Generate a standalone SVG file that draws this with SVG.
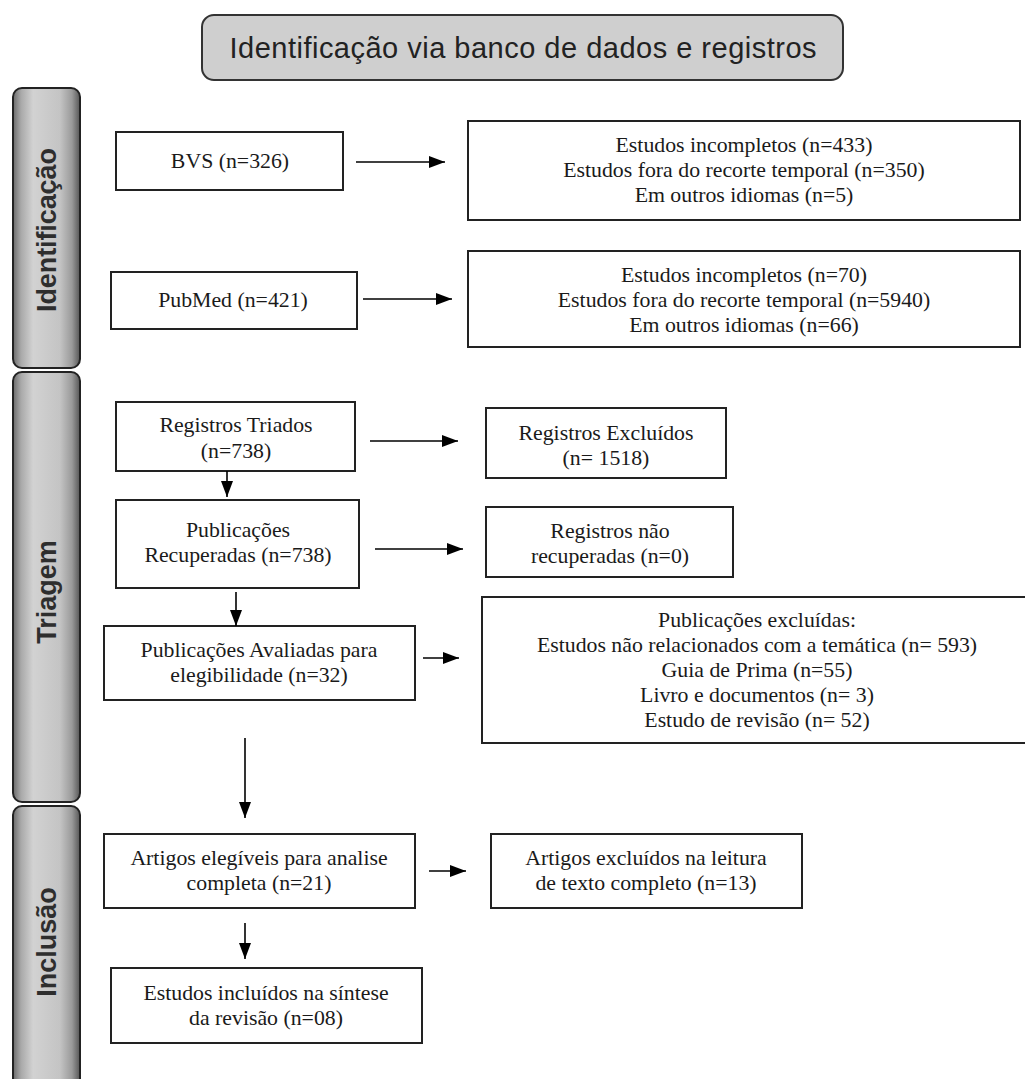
<svg xmlns="http://www.w3.org/2000/svg" width="1025" height="1079" viewBox="0 0 1025 1079">
<style>
.box{fill:#fff;stroke:#222;stroke-width:2}
.t{font-family:"Liberation Serif","Times New Roman",serif;font-size:21.8px;fill:#1a1a1a;text-anchor:middle}
.side{font-family:"Liberation Sans",Arial,sans-serif;font-size:27px;font-weight:bold;fill:#2e2e2e;text-anchor:middle}
.bar{fill:url(#barg);stroke:#222;stroke-width:2}
.conn{stroke:#000;stroke-width:1.6;fill:none;marker-end:url(#ah)}
</style>
<defs>
<linearGradient id="barg" x1="0" y1="0" x2="1" y2="0">
<stop offset="0" stop-color="#6a6a6a"/>
<stop offset="0.12" stop-color="#a9a9a9"/>
<stop offset="0.3" stop-color="#d2d2d2"/>
<stop offset="0.7" stop-color="#c4c4c4"/>
<stop offset="0.88" stop-color="#9a9a9a"/>
<stop offset="1" stop-color="#565656"/>
</linearGradient>
<marker id="ah" viewBox="0 0 16 12" refX="16" refY="6" markerWidth="16" markerHeight="12" markerUnits="userSpaceOnUse" orient="auto">
<path d="M0,0 L16,6 L0,12 z" fill="#000"/>
</marker>
</defs>
<rect width="1025" height="1079" fill="#fff"/>

<g id="title">
<rect x="202" y="15" width="641" height="65" rx="12" fill="#cfcfcf" stroke="#333" stroke-width="2"/>
<text x="523" y="58" font-family="'Liberation Sans',Arial,sans-serif" font-size="29" fill="#222" text-anchor="middle" textLength="587" lengthAdjust="spacing">Identificação via banco de dados e registros</text>
</g>

<g id="bar-identificacao">
<rect class="bar" x="13" y="88" width="67" height="280" rx="9"/>
<text class="side" transform="translate(56,230) rotate(-90)" textLength="164" lengthAdjust="spacing">Identificação</text>
</g>
<g id="bar-triagem">
<rect class="bar" x="13" y="372" width="67" height="430" rx="9"/>
<text class="side" transform="translate(56,592) rotate(-90)">Triagem</text>
</g>
<g id="bar-inclusao">
<rect class="bar" x="13" y="806" width="67" height="290" rx="9"/>
<text class="side" transform="translate(56,942) rotate(-90)">Inclusão</text>
</g>

<g id="bvs">
<rect class="box" x="116" y="132" width="227" height="58"/>
<text class="t" x="230" y="168">BVS (n=326)</text>
</g>
<g id="excl-bvs">
<rect class="box" x="468" y="121" width="552" height="99"/>
<text class="t" x="744" y="152">Estudos incompletos (n=433)</text>
<text class="t" x="744" y="177">Estudos fora do recorte temporal (n=350)</text>
<text class="t" x="744" y="202">Em outros idiomas (n=5)</text>
</g>
<g id="pubmed">
<rect class="box" x="111" y="272" width="246" height="57"/>
<text class="t" x="233" y="307">PubMed (n=421)</text>
</g>
<g id="excl-pubmed">
<rect class="box" x="468" y="251" width="552" height="96"/>
<text class="t" x="744" y="282">Estudos incompletos (n=70)</text>
<text class="t" x="744" y="307">Estudos fora do recorte temporal (n=5940)</text>
<text class="t" x="744" y="332">Em outros idiomas (n=66)</text>
</g>

<g id="triados">
<rect class="box" x="116" y="402" width="239" height="69"/>
<text class="t" x="236" y="432">Registros Triados</text>
<text class="t" x="236" y="458">(n=738)</text>
</g>
<g id="excluidos">
<rect class="box" x="486" y="408" width="240" height="70"/>
<text class="t" x="606" y="440">Registros Excluídos</text>
<text class="t" x="606" y="465">(n= 1518)</text>
</g>
<g id="recuperadas">
<rect class="box" x="116" y="500" width="243" height="88"/>
<text class="t" x="238" y="537">Publicações</text>
<text class="t" x="238" y="562">Recuperadas (n=738)</text>
</g>
<g id="nao-recuperadas">
<rect class="box" x="486" y="507" width="247" height="70"/>
<text class="t" x="610" y="538">Registros não</text>
<text class="t" x="610" y="563">recuperadas (n=0)</text>
</g>
<g id="avaliadas">
<rect class="box" x="104" y="626" width="311" height="74"/>
<text class="t" x="259" y="657">Publicações Avaliadas para</text>
<text class="t" x="259" y="682">elegibilidade (n=32)</text>
</g>
<g id="pub-excluidas">
<rect class="box" x="482" y="597" width="550" height="146"/>
<text class="t" x="757" y="627">Publicações excluídas:</text>
<text class="t" x="757" y="652">Estudos não relacionados com a temática (n= 593)</text>
<text class="t" x="757" y="677">Guia de Prima (n=55)</text>
<text class="t" x="757" y="702">Livro e documentos (n= 3)</text>
<text class="t" x="757" y="727">Estudo de revisão (n= 52)</text>
</g>

<g id="artigos-elegiveis">
<rect class="box" x="104" y="834" width="311" height="74"/>
<text class="t" x="259" y="865">Artigos elegíveis para analise</text>
<text class="t" x="259" y="890">completa (n=21)</text>
</g>
<g id="artigos-excluidos">
<rect class="box" x="491" y="834" width="311" height="74"/>
<text class="t" x="646" y="865">Artigos excluídos na leitura</text>
<text class="t" x="646" y="890">de texto completo (n=13)</text>
</g>
<g id="incluidos">
<rect class="box" x="111" y="968" width="311" height="75"/>
<text class="t" x="266" y="1000">Estudos incluídos na síntese</text>
<text class="t" x="266" y="1025">da revisão (n=08)</text>
</g>

<g id="connectors">
<path class="conn" d="M356,162 H445"/>
<path class="conn" d="M363,299 H452"/>
<path class="conn" d="M370,441 H458"/>
<path class="conn" d="M227,471 V497"/>
<path class="conn" d="M375,549 H463"/>
<path class="conn" d="M236,592 V626"/>
<path class="conn" d="M423,658 H459"/>
<path class="conn" d="M245,738 V818"/>
<path class="conn" d="M429,871 H466"/>
<path class="conn" d="M245,923 V959"/>
</g>
</svg>
